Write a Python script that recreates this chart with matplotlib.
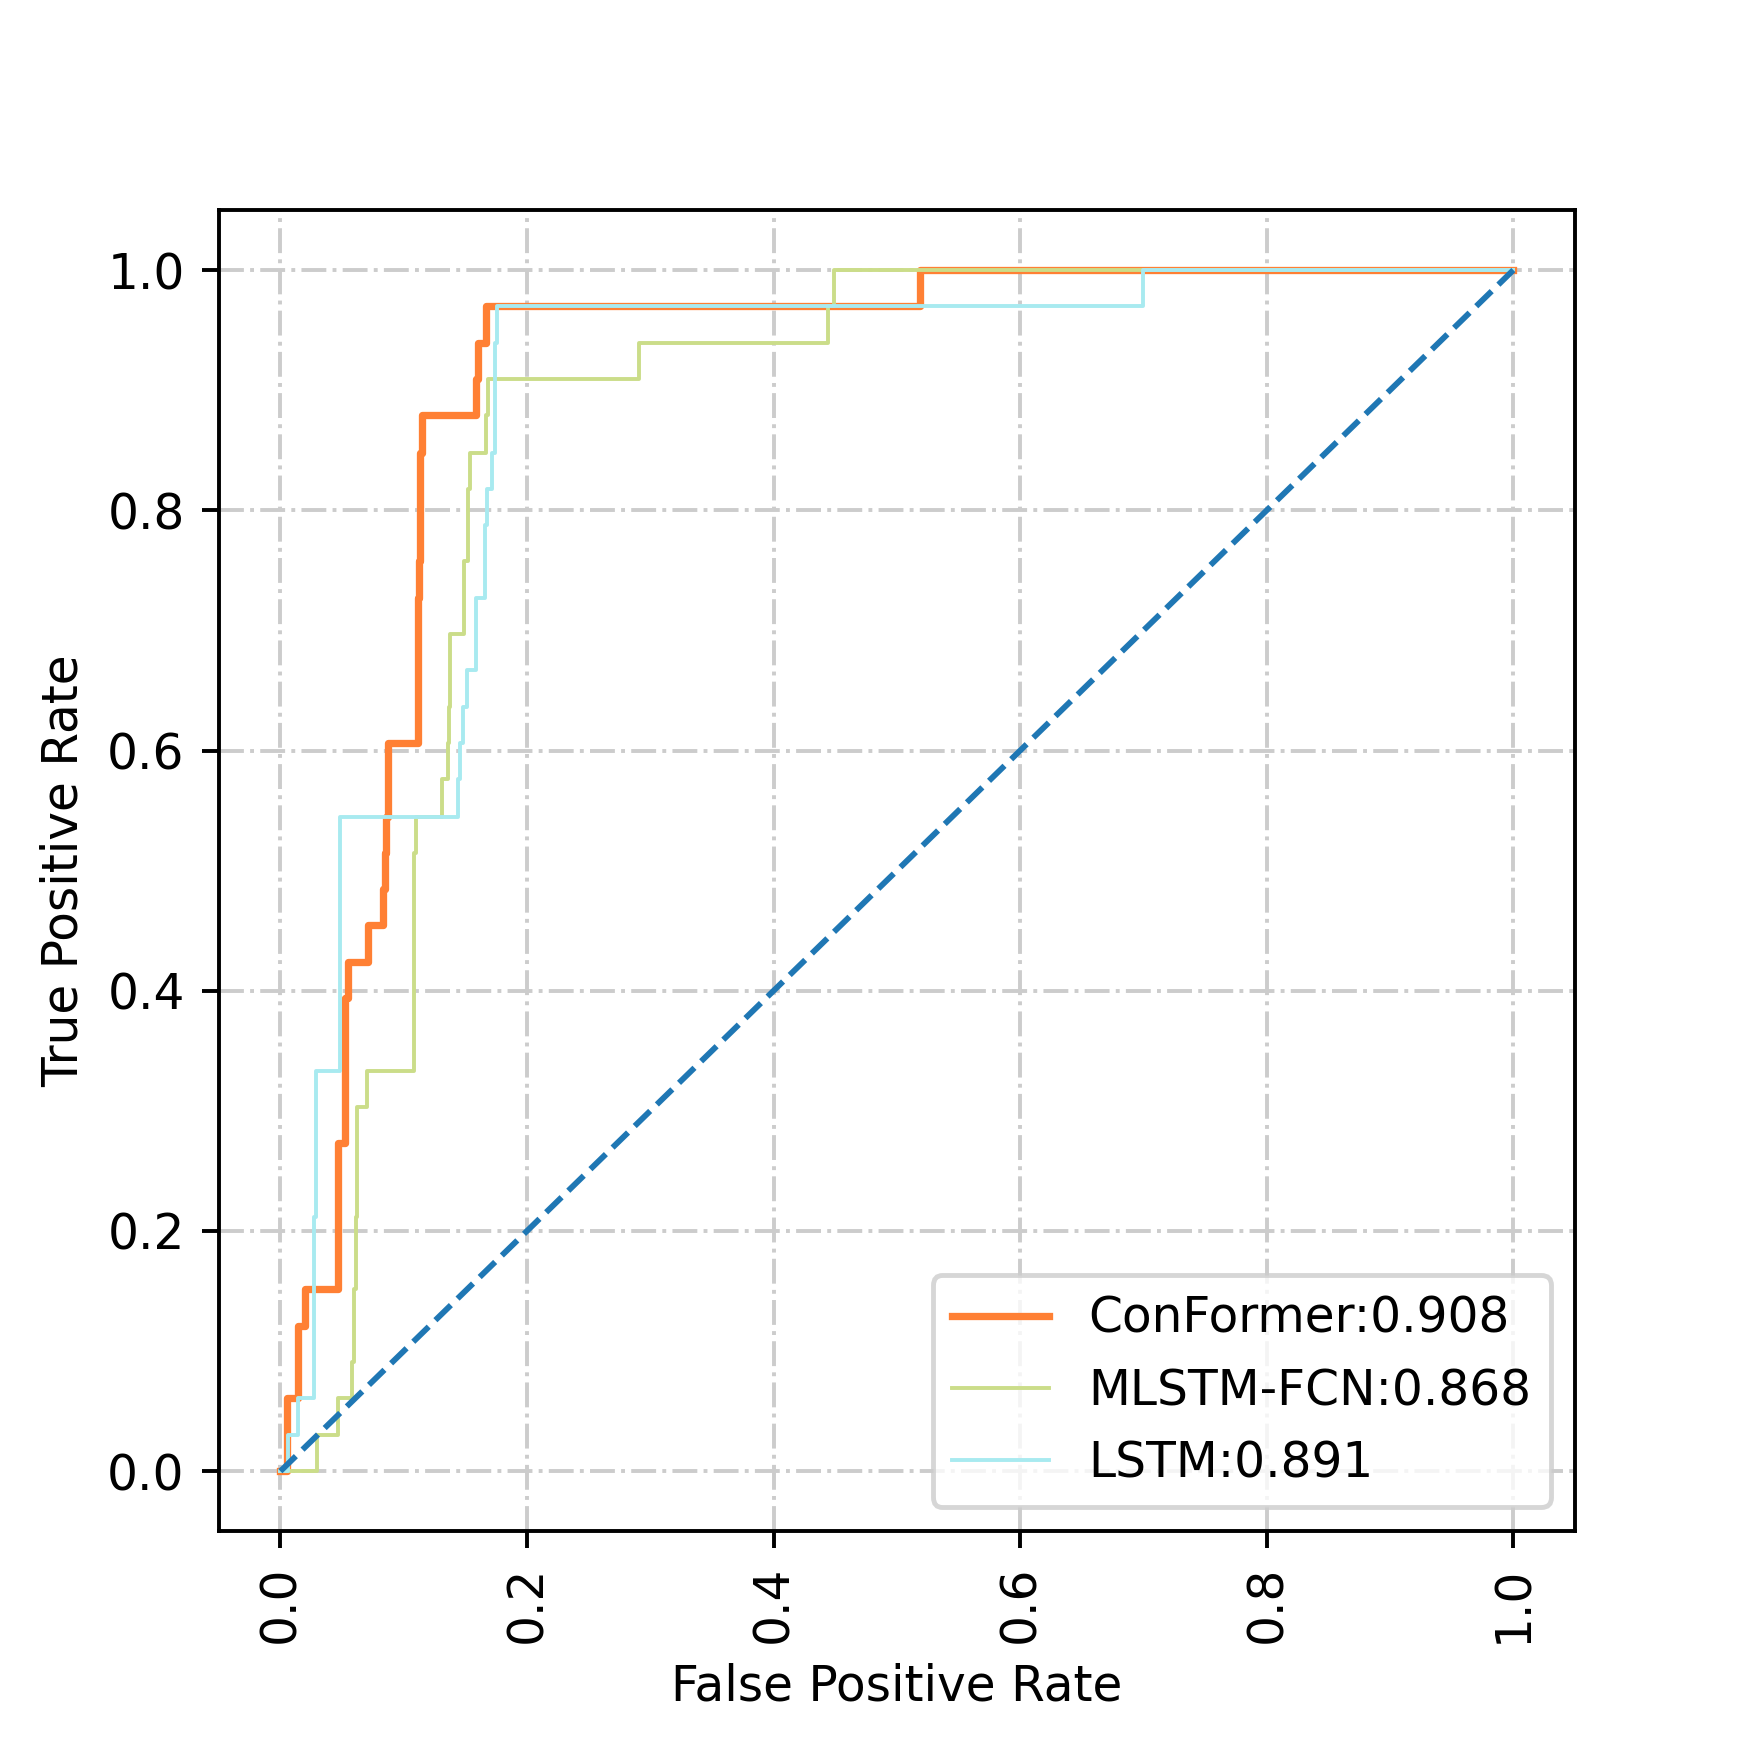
import matplotlib
matplotlib.use('Agg')
import matplotlib.pyplot as plt

# ROC points (fpr, tpr), 33 positives -> steps of 1/33
conformer_fpr = [0.0, 0.005, 0.005, 0.0145, 0.0145, 0.020, 0.020, 0.047, 0.047, 0.052, 0.052,
                 0.055, 0.055, 0.071, 0.071, 0.0835, 0.0835, 0.085, 0.085, 0.086, 0.086,
                 0.087, 0.087, 0.112, 0.112, 0.1125, 0.1125, 0.113, 0.113, 0.1135, 0.1135,
                 0.115, 0.115, 0.159, 0.159, 0.1605, 0.1605, 0.167, 0.167, 0.519, 0.519, 1.0]
conformer_tpr = [0.0, 0.0, 0.061, 0.061, 0.121, 0.121, 0.152, 0.152, 0.273, 0.273, 0.394,
                 0.394, 0.424, 0.424, 0.455, 0.455, 0.485, 0.485, 0.515, 0.515, 0.545,
                 0.545, 0.606, 0.606, 0.727, 0.727, 0.758, 0.758, 0.818, 0.818, 0.848,
                 0.848, 0.879, 0.879, 0.909, 0.909, 0.939, 0.939, 0.970, 0.970, 1.0, 1.0]

mlstm_fpr = [0.0, 0.0294, 0.0294, 0.0464, 0.0464, 0.0584, 0.0584, 0.060, 0.060, 0.061, 0.061,
             0.062, 0.062, 0.070, 0.070, 0.108, 0.108, 0.110, 0.110, 0.131, 0.131, 0.1357,
             0.1357, 0.137, 0.137, 0.1376, 0.1376, 0.149, 0.149, 0.1524, 0.1524, 0.1538,
             0.1538, 0.1665, 0.1665, 0.1686, 0.1686, 0.291, 0.291, 0.444, 0.444, 0.449,
             0.449, 1.0]
mlstm_tpr = [0.0, 0.0, 0.030, 0.030, 0.061, 0.061, 0.091, 0.091, 0.152, 0.152, 0.212,
             0.212, 0.303, 0.303, 0.333, 0.333, 0.515, 0.515, 0.545, 0.545, 0.576, 0.576,
             0.606, 0.606, 0.636, 0.636, 0.697, 0.697, 0.758, 0.758, 0.818, 0.818,
             0.848, 0.848, 0.879, 0.879, 0.909, 0.909, 0.939, 0.939, 0.970, 0.970,
             1.0, 1.0]

lstm_fpr = [0.0, 0.0064, 0.0064, 0.0145, 0.0145, 0.027, 0.027, 0.029, 0.029, 0.0483, 0.0483,
            0.1443, 0.1443, 0.146, 0.146, 0.148, 0.148, 0.151, 0.151, 0.159, 0.159, 0.166,
            0.166, 0.1673, 0.1673, 0.1714, 0.1714, 0.174, 0.174, 0.176, 0.176, 0.700, 0.700, 1.0]
lstm_tpr = [0.0, 0.0, 0.030, 0.030, 0.061, 0.061, 0.212, 0.212, 0.333, 0.333, 0.545,
            0.545, 0.576, 0.576, 0.606, 0.606, 0.636, 0.636, 0.667, 0.667, 0.727, 0.727,
            0.788, 0.788, 0.818, 0.818, 0.848, 0.848, 0.939, 0.939, 0.970, 0.970, 1.0, 1.0]

labels = ['ConFormer:0.908', 'MLSTM-FCN:0.868', 'LSTM:0.891']
colors = ['#ff8034', '#cbdd89', '#a8eaf0']

fig, ax = plt.subplots(figsize=(5, 5), dpi=350)
plt.subplots_adjust(left=0.125, right=0.9, bottom=0.125, top=0.88)

ax.plot(conformer_fpr, conformer_tpr, color=colors[0], lw=1.5, label=labels[0])
ax.plot(mlstm_fpr, mlstm_tpr, color=colors[1], lw=0.8, label=labels[1])
ax.plot(lstm_fpr, lstm_tpr, color=colors[2], lw=0.8, label=labels[2])
ax.plot([0, 1], [0, 1], linestyle='--', color='#1f77b4', lw=1.2)

ax.grid(True, linestyle='-.', color='#cccccc', lw=0.8)
ax.set_xlabel('False Positive Rate')
ax.set_ylabel('True Positive Rate')
plt.xticks(rotation=90)
ax.legend(loc='lower right')

plt.savefig('out.png')
